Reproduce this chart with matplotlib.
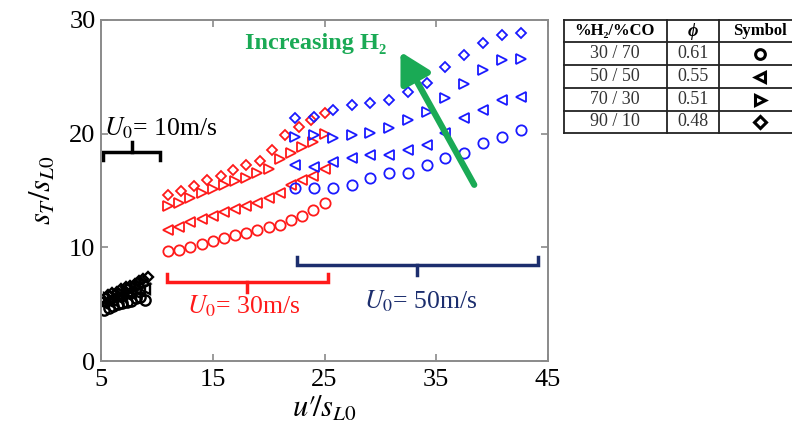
import matplotlib.pyplot as plt

plt.rcParams['font.family'] = ['Liberation Serif', 'DejaVu Serif']
plt.rcParams['mathtext.fontset'] = 'stix'

RED = '#ff1a1a'
BLUE = '#1a1aff'
NAVY = '#1c2e6e'
GREEN = '#1aaa55'
GREY = '#8a8a8a'

# U0 = 10 m/s (black)
x10 = [5.3, 5.7, 6.1, 6.5, 6.9, 7.3, 7.7, 8.1, 8.5, 8.9]
x10_dia = [5.6, 6.0, 6.4, 6.8, 7.2, 7.6, 8.0, 8.4, 8.8, 9.2]
circ10 = [4.5, 4.7, 4.8, 5.0, 5.1, 5.2, 5.3, 5.5, 5.6, 5.4]
ltri10 = [5.0, 5.2, 5.3, 5.5, 5.6, 5.8, 5.9, 6.0, 6.2, 6.3]
rtri10 = [5.3, 5.5, 5.7, 5.8, 6.0, 6.1, 6.3, 6.5, 6.6, 6.8]
dia10 = [5.8, 6.0, 6.1, 6.3, 6.5, 6.6, 6.8, 7.0, 7.2, 7.4]

# U0 = 30 m/s (red)
x30 = [11, 12, 13, 14, 15, 16, 17, 18, 19, 20, 21, 22, 23, 24, 25]
x30_dia = [11.0, 12.2, 13.3, 14.5, 15.7, 16.8, 18.0, 19.2, 20.3, 21.5, 22.7, 23.8, 25.0]
circ30 = [9.7, 9.8, 10.0, 10.3, 10.6, 10.8, 11.1, 11.3, 11.5, 11.8, 12.0, 12.4, 12.8, 13.3, 13.9]
ltri30 = [11.5, 11.8, 12.2, 12.5, 12.8, 13.1, 13.4, 13.6, 13.9, 14.3, 14.8, 15.5, 15.9, 16.3, 16.9]
rtri30 = [13.6, 13.9, 14.3, 14.8, 15.1, 15.5, 15.8, 16.1, 16.5, 16.9, 17.8, 18.3, 18.8, 19.3, 20.0]
dia30 = [14.6, 15.0, 15.4, 15.9, 16.3, 16.8, 17.2, 17.6, 18.6, 19.9, 20.6, 21.2, 21.8]

# U0 = 50 m/s (blue)
x50 = [22.4, 24.1, 25.8, 27.5, 29.1, 30.8, 32.5, 34.2, 35.8, 37.5, 39.2, 40.9, 42.6]
circ50 = [15.2, 15.2, 15.2, 15.5, 16.1, 16.5, 16.5, 17.2, 17.9, 18.3, 19.2, 19.7, 20.3]
ltri50 = [17.2, 17.1, 17.5, 17.9, 18.1, 18.1, 18.6, 19.0, 20.1, 21.4, 22.1, 23.0, 23.2]
rtri50 = [19.7, 19.9, 19.6, 19.9, 20.1, 20.5, 21.2, 21.9, 23.1, 24.4, 25.6, 26.5, 26.6]
dia50 = [21.4, 21.5, 22.1, 22.5, 22.7, 23.0, 23.7, 24.5, 25.9, 26.9, 28.0, 28.7, 28.9]

# brackets: (x start, x end, y level, direction of end tips, colour)
brackets = [(5.2, 10.3, 18.4, -1, 'black'),
            (10.9, 25.3, 6.95, 1, RED),
            (22.5, 44.1, 8.45, 1, NAVY)]

mixtures = ['30 / 70', '50 / 50', '70 / 30', '90 / 10']
phis = ['0.61', '0.55', '0.51', '0.48']
symbols = ['o', '<', '>', 'D']

fig = plt.figure(figsize=(7.92, 4.42), dpi=100)
ax = fig.add_axes([101 / 792, 1 - 361 / 442, 447 / 792, 341 / 442])

def series(x, y, marker, color, ms=7.4, mew=1.3):
    if marker == 'D':
        ms = ms * 0.75
    ax.plot(x, y, ls='none', marker=marker, ms=ms, mfc='none',
            mec=color, mew=mew)

for y, m in zip([circ10, ltri10, rtri10], ['o', '<', '>']):
    series(x10, y, m, 'black', mew=1.7)
series(x10_dia, dia10, 'D', 'black', mew=1.7)

for y, m in zip([circ30, ltri30, rtri30], ['o', '<', '>']):
    series(x30, y, m, RED)
series(x30_dia, dia30, 'D', RED)

for y, m in zip([circ50, ltri50, rtri50, dia50], symbols):
    series(x50, y, m, BLUE)

# brackets marking each inlet velocity group
for x0, x1, yl, d, c in brackets:
    tip = 0.7 * d
    xm = (x0 + x1) / 2
    ax.plot([x0, x0, x1, x1], [yl + tip, yl, yl, yl + tip], color=c, lw=2.5,
            solid_joinstyle='miter')
    ax.plot([xm, xm], [yl, yl - 1.3 * tip], color=c, lw=2.5)

ax.text(5.3, 20.5, r'$U_{\mathit{0}}$= 10m/s', fontsize=18.5, color='black',
        ha='left', va='center')
ax.text(17.8, 4.8, r'$U_{\mathit{0}}$= 30m/s', fontsize=18.5, color=RED,
        ha='center', va='center')
ax.text(33.6, 5.3, r'$U_{\mathit{0}}$= 50m/s', fontsize=18.5, color=NAVY,
        ha='center', va='center')

ax.text(24.2, 27.9, 'Increasing H₂', fontsize=17.5, fontweight='bold',
        color=GREEN, ha='center', va='center')
ax.annotate('', xy=(31.8, 27.2), xytext=(38.4, 15.5),
            arrowprops=dict(arrowstyle='-|>,head_length=0.9,head_width=0.5',
                            lw=4.5, color=GREEN, mutation_scale=20,
                            shrinkA=0, shrinkB=0))

ax.set_xlim(5, 45)
ax.set_ylim(0, 30)
ax.set_xticks([5, 15, 25, 35, 45])
ax.set_yticks([0, 10, 20, 30])
ax.tick_params(direction='in', length=5, width=1.2, color=GREY,
               top=True, right=True, labelsize=19, pad=4)
ax.tick_params(axis='x', pad=6)
for s in ax.spines.values():
    s.set_color(GREY)
    s.set_linewidth(1.4)

ax.set_xlabel(r"$u\prime\!/s_{L\mathit{0}}$", fontsize=22, labelpad=2)
ax.set_ylabel(r"$s_T/s_{L\mathit{0}}$", fontsize=22, labelpad=8)

# legend table on the right
tab = fig.add_axes([563 / 792, 1 - 133 / 442, 237 / 792, 113 / 442])
tab.set_xlim(563, 800)
tab.set_ylim(133, 20)
tab.axis('off')
rows = [20, 42, 65, 88, 111, 133]
for r in rows:
    tab.plot([564, 800], [r, r], color='#222222', lw=1.3, clip_on=False)
for c in [564, 667, 719]:
    tab.plot([c, c], [20, 133], color='#222222', lw=1.3, clip_on=False)

tab.text(615, 31, '%H₂/%CO', fontsize=12, fontweight='bold',
         ha='center', va='center')
tab.text(693, 31, 'ϕ', fontsize=13, fontweight='bold', style='italic',
         ha='center', va='center')
tab.text(760, 31, 'Symbol', fontsize=12, fontweight='bold',
         ha='center', va='center')
for i, (mix, phi, sym) in enumerate(zip(mixtures, phis, symbols)):
    yc = (rows[i + 1] + rows[i + 2]) / 2
    tab.text(615, yc, mix, fontsize=13, color='#333333', ha='center', va='center')
    tab.text(693, yc, phi, fontsize=13, color='#333333', ha='center', va='center')
    tab.plot([760], [yc], marker=sym, ms=6 if sym == 'D' else 7, mfc='none',
             mec='black', mew=2.2, clip_on=False)

fig.savefig('out.png', dpi=100)
